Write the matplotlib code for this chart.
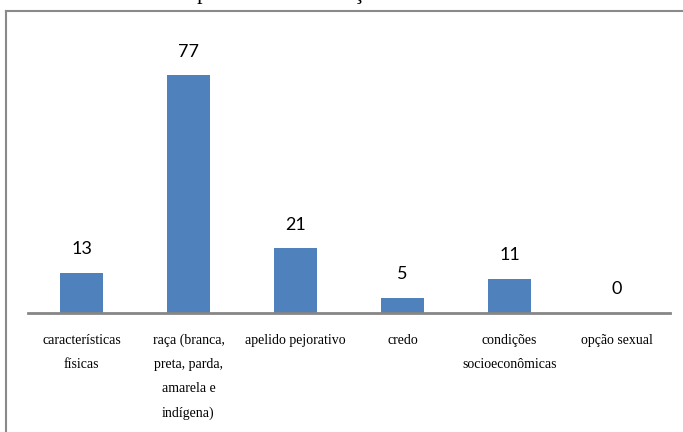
import matplotlib.pyplot as plt
from matplotlib.lines import Line2D

categorias = ['características\nfísicas',
              'raça (branca,\npreta, parda,\namarela e\nindígena)',
              'apelido pejorativo',
              'credo',
              'condições\nsocioeconômicas',
              'opção sexual']
valores = [13, 77, 21, 5, 11, 0]
titulo = 'Tipos de discriminação mais comuns'

W, H = 683, 432
fig = plt.figure(figsize=(W / 100, H / 100), dpi=100)

# moldura cinza do grafico (so aparecem topo e lado esquerdo)
ytop = (H - 10.5) / H
fig.lines.append(Line2D([5.5 / W, 5.5 / W], [0, ytop], transform=fig.transFigure,
                        color='#8a8a8a', linewidth=1.5))
fig.lines.append(Line2D([5.5 / W, 1], [ytop, ytop], transform=fig.transFigure,
                        color='#8a8a8a', linewidth=1.5))

# titulo cortado no topo da figura
fig.text(342 / W, 1.0 + 1 / H, titulo, ha='center', va='baseline',
         family='Liberation Serif', fontsize=16, color='black')

ax = fig.add_axes([28 / W, (H - 313) / H, (670 - 28) / W, 247 / H])
x = range(len(valores))
ax.bar(x, valores, width=0.4, color='#4F81BD')
ax.set_xlim(-0.5, len(valores) - 0.5)
ax.set_ylim(0, 80)

for i, v in zip(x, valores):
    ax.annotate(str(v), (i, v), xytext=(0, 17), textcoords='offset points',
                ha='center', va='center', fontsize=13, family='Lato')

for s in ['top', 'right', 'left']:
    ax.spines[s].set_visible(False)
ax.spines['bottom'].set_color('#868686')
ax.spines['bottom'].set_linewidth(2)
ax.set_yticks([])
ax.set_xticks(list(x))
ax.set_xticklabels(categorias, family='Liberation Serif', fontsize=10,
                   linespacing=2.1, va='top')
ax.tick_params(axis='x', length=0, pad=15)

fig.savefig('out.png', dpi=100)
